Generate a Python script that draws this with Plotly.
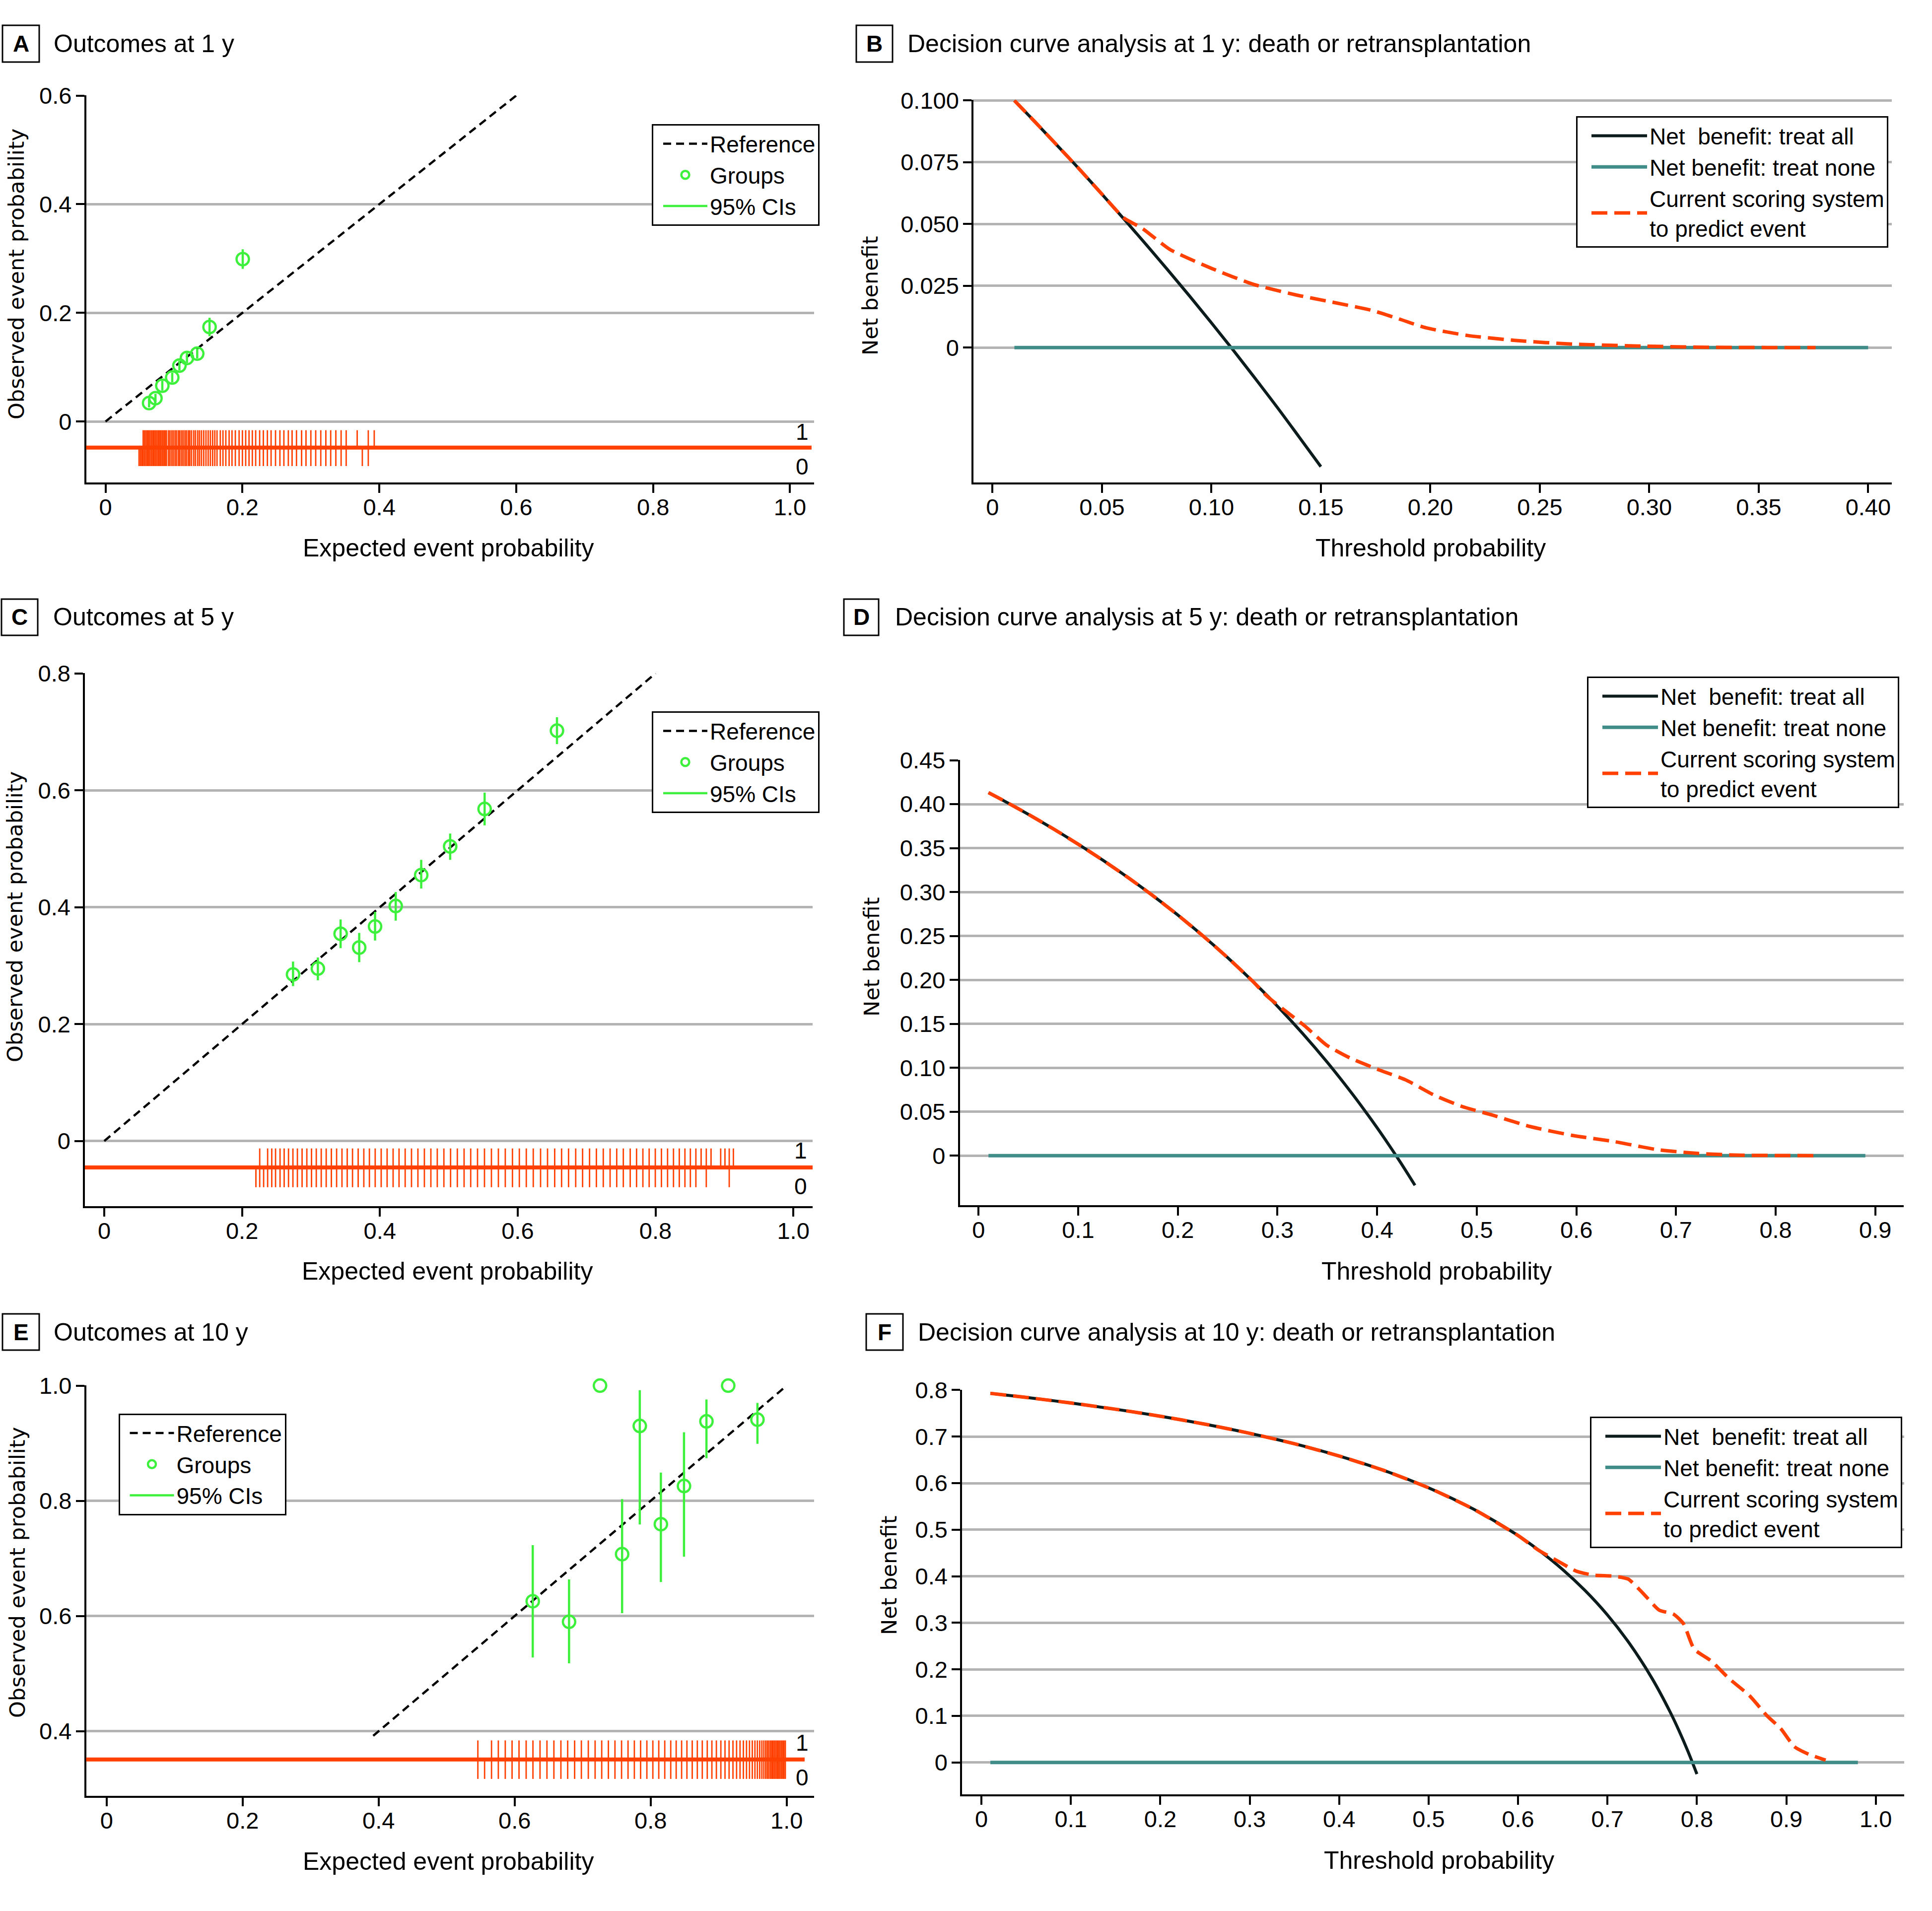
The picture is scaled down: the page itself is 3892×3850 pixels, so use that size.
import plotly.graph_objects as go

W, H = 3892, 3850
ORANGE = "#ff4000"
GREEN = "#3cf03c"
TEAL = "#3f8c88"
DARK = "#0c1c1c"
GRID = "#b3b3b3"
FONT = "Liberation Sans"
YFONT = "DejaVu Sans"

# ---------------- Panel A: calibration at 1 y ----------------
A_expected = [0.0637, 0.073, 0.083, 0.0975, 0.108, 0.119, 0.134, 0.152, 0.2005]
A_observed = [0.034, 0.043, 0.066, 0.081, 0.103, 0.117, 0.125, 0.174, 0.299]
A_ci_low = [0.026, 0.035, 0.057, 0.072, 0.094, 0.108, 0.116, 0.157, 0.281]
A_ci_high = [0.042, 0.051, 0.075, 0.090, 0.112, 0.126, 0.134, 0.191, 0.317]
A_reference = [0.0, 0.6]
A_rug_event = [0.055, 0.057, 0.059, 0.061, 0.063, 0.065, 0.067, 0.069, 0.071, 0.073, 0.075,
               0.077, 0.079, 0.081, 0.083, 0.085, 0.087, 0.089,
               0.0919, 0.0942, 0.0968, 0.0990, 0.1016, 0.1039, 0.1065, 0.1087, 0.1113, 0.1135,
               0.1161, 0.1184, 0.1210, 0.1232, 0.1258, 0.1290, 0.1316, 0.1348, 0.1374, 0.1403,
               0.1435, 0.1468, 0.1500, 0.1532, 0.1565, 0.1597, 0.1629, 0.1677, 0.1716, 0.1758,
               0.1806, 0.1848, 0.1897, 0.1952, 0.2000, 0.2048, 0.2097, 0.2145, 0.2194, 0.2252,
               0.2306, 0.2365, 0.2419, 0.2484, 0.2548, 0.2606, 0.2671, 0.2726, 0.2790, 0.2865,
               0.2929, 0.3000, 0.3071, 0.3145, 0.3219, 0.3290, 0.3365, 0.3442, 0.3516, 0.3677,
               0.3839, 0.3926]
A_rug_nonevent = [0.049, 0.051, 0.053, 0.055, 0.057, 0.059, 0.061, 0.063, 0.065, 0.067, 0.069,
                  0.071, 0.073, 0.075, 0.077, 0.079, 0.081, 0.083, 0.085, 0.087, 0.089,
                  0.0919, 0.0942, 0.0968, 0.0990, 0.1016, 0.1039, 0.1065, 0.1087, 0.1113, 0.1135,
                  0.1161, 0.1184, 0.1210, 0.1232, 0.1258, 0.1290, 0.1316, 0.1348, 0.1374, 0.1403,
                  0.1435, 0.1468, 0.1500, 0.1532, 0.1565, 0.1597, 0.1629, 0.1677, 0.1716, 0.1758,
                  0.1806, 0.1848, 0.1897, 0.1952, 0.2000, 0.2048, 0.2097, 0.2145, 0.2194, 0.2252,
                  0.2306, 0.2365, 0.2419, 0.2484, 0.2548, 0.2606, 0.2671, 0.2726, 0.2790, 0.2865,
                  0.2929, 0.3000, 0.3071, 0.3145, 0.3219, 0.3290, 0.3365, 0.3442, 0.3516, 0.3752,
                  0.3839]

# ---------------- Panel C: calibration at 5 y ----------------
C_expected = [0.274, 0.310, 0.343, 0.370, 0.393, 0.423, 0.460, 0.502, 0.552, 0.657]
C_observed = [0.285, 0.295, 0.3545, 0.331, 0.367, 0.402, 0.455, 0.504, 0.568, 0.702]
C_ci_low = [0.265, 0.275, 0.330, 0.306, 0.343, 0.377, 0.432, 0.481, 0.540, 0.679]
C_ci_high = [0.307, 0.314, 0.379, 0.356, 0.392, 0.426, 0.481, 0.526, 0.596, 0.725]
C_reference = [0.0, 0.8]
C_rug_common = [0.2256, 0.2371, 0.2431, 0.2486, 0.2551, 0.2611, 0.2674, 0.2738, 0.2803, 0.2871,
                0.2940, 0.3008, 0.3077, 0.3149, 0.3221, 0.3296, 0.3372, 0.3450, 0.3526, 0.3603,
                0.3685, 0.3767, 0.3848, 0.3932, 0.4019, 0.4105, 0.4192, 0.4278, 0.4367, 0.4459,
                0.4552, 0.4646, 0.4740, 0.4833, 0.4929, 0.5026, 0.5124, 0.5222, 0.5318, 0.5417,
                0.5518, 0.5619, 0.5720, 0.5820, 0.5924, 0.6024, 0.6125, 0.6226, 0.6332, 0.6433,
                0.6537, 0.6637, 0.6738, 0.6842, 0.6942, 0.7043, 0.7142, 0.7242, 0.7341, 0.7437,
                0.7533, 0.7633, 0.7725, 0.7817, 0.7908, 0.7997, 0.8086, 0.8175, 0.8261, 0.8345,
                0.8427, 0.8506, 0.8586]
C_rug_event = C_rug_common + [0.8662, 0.8737, 0.8806, 0.8946, 0.9008, 0.9070, 0.9130]
C_rug_nonevent = [0.2201, 0.2313] + C_rug_common + [0.8737, 0.9070]

# ---------------- Panel E: calibration at 10 y ----------------
E_expected = [0.6266, 0.680, 0.7255, 0.758, 0.784, 0.815, 0.849, 0.882, 0.914, 0.957]
E_observed = [0.6257, 0.590, 1.0, 0.7074, 0.930, 0.7595, 0.8257, 0.938, 1.0, 0.941]
E_ci_low = [0.528, 0.518, 1.0, 0.605, 0.759, 0.659, 0.703, 0.874, 1.0, 0.899]
E_ci_high = [0.723, 0.6635, 1.0, 0.803, 0.992, 0.849, 0.919, 0.976, 1.0, 0.970]
E_reference = [0.392, 1.0]
E_rug_sparse = [0.5459, 0.5660, 0.5760, 0.5862, 0.5962, 0.6064, 0.6169, 0.6269, 0.6373, 0.6475,
                0.6577, 0.6680, 0.6780, 0.6882, 0.6981, 0.7083, 0.7183, 0.7280, 0.7378, 0.7475,
                0.7572, 0.7667, 0.7760, 0.7852, 0.7944, 0.8032, 0.8119, 0.8207, 0.8295, 0.8375,
                0.8455, 0.8533, 0.8611, 0.8686, 0.8759, 0.8832, 0.8900, 0.8966, 0.9032, 0.9093,
                0.9153, 0.9210, 0.9263, 0.9314, 0.9363, 0.9409, 0.9453, 0.9494, 0.9533, 0.9569,
                0.9603, 0.9635, 0.9664, 0.9691, 0.9715, 0.9737, 0.9760, 0.9780, 0.9800, 0.9820,
                0.9840, 0.9860, 0.9880, 0.9900, 0.9920, 0.9940, 0.9960, 0.9980]
E_rug_event = E_rug_sparse
E_rug_nonevent = [0.5558] + E_rug_sparse

# ---------------- Panel B: decision curve at 1 y ----------------
B_thr_all = [0.01, 0.02, 0.03, 0.04, 0.05, 0.06, 0.07, 0.08, 0.09, 0.10, 0.11, 0.12, 0.13, 0.14, 0.15]
B_nb_all = [0.1000, 0.0908, 0.0814, 0.0719, 0.0621, 0.0521, 0.0419, 0.0315, 0.0209, 0.0100,
            -0.0011, -0.0125, -0.0241, -0.0361, -0.0482]
B_thr_none = [0.01, 0.40]
B_nb_none = [0.0, 0.0]
B_thr_model = [0.01, 0.02, 0.03, 0.04, 0.05, 0.06, 0.0685, 0.0811, 0.1002, 0.1192, 0.1382, 0.154,
               0.173, 0.186, 0.198, 0.217, 0.240, 0.265, 0.297, 0.328, 0.376]
B_nb_model = [0.1000, 0.0908, 0.0814, 0.0719, 0.0621, 0.0525, 0.0482, 0.0397, 0.0320, 0.0256,
              0.0214, 0.0186, 0.0151, 0.0115, 0.0080, 0.0049, 0.0028, 0.0014, 0.0006, 0.0001, 0.0]

# ---------------- Panel D: decision curve at 5 y ----------------
D_thr_all = [0.01, 0.025, 0.05, 0.075, 0.10, 0.125, 0.15, 0.175, 0.20, 0.225, 0.25, 0.275, 0.30,
             0.325, 0.35, 0.375, 0.39, 0.40, 0.41, 0.42, 0.43, 0.438]
D_nb_all = [0.4131, 0.4041, 0.3884, 0.3719, 0.3544, 0.3360, 0.3165, 0.2958, 0.2738, 0.2503,
            0.2253, 0.1986, 0.1700, 0.1393, 0.1062, 0.0704, 0.0475, 0.0317, 0.0153, -0.0017,
            -0.0193, -0.0338]
D_thr_none = [0.01, 0.89]
D_nb_none = [0.0, 0.0]
D_thr_model = [0.01, 0.025, 0.05, 0.075, 0.10, 0.125, 0.15, 0.175, 0.20, 0.225, 0.25, 0.275, 0.290,
               0.311, 0.328, 0.349, 0.373, 0.401, 0.429, 0.457, 0.485, 0.516, 0.554, 0.596, 0.638,
               0.680, 0.722, 0.763, 0.840]
D_nb_model = [0.4131, 0.4041, 0.3884, 0.3719, 0.3544, 0.3360, 0.3165, 0.2958, 0.2738, 0.2503,
              0.2253, 0.1986, 0.181, 0.162, 0.147, 0.126, 0.111, 0.098, 0.086, 0.069, 0.056, 0.046,
              0.033, 0.023, 0.016, 0.007, 0.0025, 0.0005, 0.0]

# ---------------- Panel F: decision curve at 10 y ----------------
F_thr_all = [0.01, 0.05, 0.10, 0.15, 0.20, 0.25, 0.30, 0.35, 0.40, 0.45, 0.50, 0.55, 0.60, 0.625,
             0.65, 0.675, 0.70, 0.725, 0.75, 0.77, 0.78, 0.79, 0.80]
F_nb_all = [0.7929, 0.7842, 0.7722, 0.7588, 0.7438, 0.7267, 0.7071, 0.6846, 0.6583, 0.6273, 0.5900,
            0.5444, 0.4875, 0.4533, 0.4143, 0.3692, 0.3167, 0.2545, 0.1800, 0.1087, 0.0682, 0.0238,
            -0.0250]
F_thr_none = [0.01, 0.98]
F_nb_none = [0.0, 0.0]
F_thr_model = [0.01, 0.05, 0.10, 0.15, 0.20, 0.25, 0.30, 0.35, 0.40, 0.45, 0.50, 0.55, 0.60, 0.622,
               0.645, 0.665, 0.684, 0.7075, 0.723, 0.739, 0.758, 0.7735, 0.785, 0.797, 0.816,
               0.8355, 0.859, 0.878, 0.894, 0.909, 0.925, 0.944]
F_nb_model = [0.7929, 0.7842, 0.7722, 0.7588, 0.7438, 0.7267, 0.7071, 0.6846, 0.6583, 0.6273, 0.5900,
              0.5444, 0.4875, 0.457, 0.432, 0.411, 0.4025, 0.400, 0.394, 0.365, 0.327, 0.319, 0.298,
              0.2435, 0.218, 0.181, 0.143, 0.101, 0.072, 0.034, 0.0176, 0.005]

# ---------------- Axis texts ----------------
A_xticks = [0, 0.2, 0.4, 0.6, 0.8, 1.0]
A_xtext = ["0", "0.2", "0.4", "0.6", "0.8", "1.0"]
A_yticks = [0, 0.2, 0.4, 0.6]
A_ytext = ["0", "0.2", "0.4", "0.6"]
C_yticks = [0, 0.2, 0.4, 0.6, 0.8]
C_ytext = ["0", "0.2", "0.4", "0.6", "0.8"]
E_yticks = [0.4, 0.6, 0.8, 1.0]
E_ytext = ["0.4", "0.6", "0.8", "1.0"]
B_xticks = [0, 0.05, 0.10, 0.15, 0.20, 0.25, 0.30, 0.35, 0.40]
B_xtext = ["0", "0.05", "0.10", "0.15", "0.20", "0.25", "0.30", "0.35", "0.40"]
B_yticks = [0, 0.025, 0.05, 0.075, 0.1]
B_ytext = ["0", "0.025", "0.050", "0.075", "0.100"]
D_xticks = [0, 0.1, 0.2, 0.3, 0.4, 0.5, 0.6, 0.7, 0.8, 0.9]
D_xtext = ["0", "0.1", "0.2", "0.3", "0.4", "0.5", "0.6", "0.7", "0.8", "0.9"]
D_yticks = [0, 0.05, 0.10, 0.15, 0.20, 0.25, 0.30, 0.35, 0.40, 0.45]
D_ytext = ["0", "0.05", "0.10", "0.15", "0.20", "0.25", "0.30", "0.35", "0.40", "0.45"]
F_xticks = [0, 0.1, 0.2, 0.3, 0.4, 0.5, 0.6, 0.7, 0.8, 0.9, 1.0]
F_xtext = ["0", "0.1", "0.2", "0.3", "0.4", "0.5", "0.6", "0.7", "0.8", "0.9", "1.0"]
F_yticks = [0, 0.1, 0.2, 0.3, 0.4, 0.5, 0.6, 0.7, 0.8]
F_ytext = ["0", "0.1", "0.2", "0.3", "0.4", "0.5", "0.6", "0.7", "0.8"]

LEG_CAL = ["Reference", "Groups", "95% CIs"]
LEG_DCA = ["Net  benefit: treat all", "Net benefit: treat none",
           "Current scoring system<br>to predict event"]


def px(x):
    return x / W


def py(y):
    return 1 - y / H


fig = go.Figure()


def ax_names(n):
    s = "" if n == 1 else str(n)
    return "x" + s, "y" + s, "legend" + s


def add_calibration(n, exp, obs, lo, hi, ref, rug1, rug0, rug_y):
    xa, ya, lg = ax_names(n)
    fig.add_trace(go.Scatter(x=ref, y=ref, mode="lines", name=LEG_CAL[0], xaxis=xa, yaxis=ya,
                             legend=lg, line=dict(color="black", width=4.5, dash="16px,10px")))
    cx, cy = [], []
    for e, l, h in zip(exp, lo, hi):
        cx += [e, e, None]
        cy += [l, h, None]
    fig.add_trace(go.Scatter(x=exp, y=obs, mode="markers", name=LEG_CAL[1], xaxis=xa, yaxis=ya,
                             legend=lg, cliponaxis=False,
                             marker=dict(symbol="circle-open", size=25, color=GREEN,
                                         line=dict(width=4.5, color=GREEN))))
    fig.add_trace(go.Scatter(x=cx, y=cy, mode="lines", name=LEG_CAL[2], xaxis=xa, yaxis=ya,
                             legend=lg, cliponaxis=False, line=dict(color=GREEN, width=4.5)))
    top, mid, bot = rug_y
    for vals, y0, y1 in ((rug1, top, mid), (rug0, mid, bot)):
        rx, ry = [], []
        for v in vals:
            rx += [v, v, None]
            ry += [y0, y1, None]
        fig.add_trace(go.Scatter(x=rx, y=ry, mode="lines", showlegend=False, xaxis=xa, yaxis=ya,
                                 line=dict(color=ORANGE, width=2.8), hoverinfo="skip"))


def add_dca(n, ta, na, tn, nn, tm, nm):
    xa, ya, lg = ax_names(n)
    fig.add_trace(go.Scatter(x=ta, y=na, mode="lines", name=LEG_DCA[0], xaxis=xa, yaxis=ya,
                             legend=lg, line=dict(color=DARK, width=6, shape="spline")))
    fig.add_trace(go.Scatter(x=tn, y=nn, mode="lines", name=LEG_DCA[1], xaxis=xa, yaxis=ya,
                             legend=lg, line=dict(color=TEAL, width=7)))
    fig.add_trace(go.Scatter(x=tm, y=nm, mode="lines", name=LEG_DCA[2], xaxis=xa, yaxis=ya,
                             legend=lg, line=dict(color=ORANGE, width=7, dash="32px,14px",
                                                  shape="spline", smoothing=0.6)))


add_calibration(1, A_expected, A_observed, A_ci_low, A_ci_high, A_reference,
                A_rug_event, A_rug_nonevent, (-0.016, -0.048, -0.082))
add_dca(2, B_thr_all, B_nb_all, B_thr_none, B_nb_none, B_thr_model, B_nb_model)
add_calibration(3, C_expected, C_observed, C_ci_low, C_ci_high, C_reference,
                C_rug_event, C_rug_nonevent, (-0.0127, -0.0452, -0.079))
add_dca(4, D_thr_all, D_nb_all, D_thr_none, D_nb_none, D_thr_model, D_nb_model)
add_calibration(5, E_expected, E_observed, E_ci_low, E_ci_high, E_reference,
                E_rug_event, E_rug_nonevent, (0.3840, 0.3510, 0.3172))
add_dca(6, F_thr_all, F_nb_all, F_thr_none, F_nb_none, F_thr_model, F_nb_model)

# panel geometry (pixels) -> domains
panels = {
    1: dict(x=(173.5, 1640), y=(192, 972), xr=[-0.0283, 1.0352], yr=[-0.1122, 0.6005],
            xt=(A_xticks, A_xtext), yt=(A_yticks, A_ytext)),
    2: dict(x=(1961, 3811), y=(201, 972), xr=[-0.0087, 0.4108], yr=[-0.0546, 0.1003],
            xt=(B_xticks, B_xtext), yt=(B_yticks, B_ytext)),
    3: dict(x=(171, 1637), y=(1356, 2430), xr=[-0.0281, 1.028], yr=[-0.1114, 0.8005],
            xt=(A_xticks, A_xtext), yt=(C_yticks, C_ytext)),
    4: dict(x=(1933.5, 3835), y=(1531, 2428), xr=[-0.0188, 0.9285], yr=[-0.0564, 0.4503],
            xt=(D_xticks, D_xtext), yt=(D_yticks, D_ytext)),
    5: dict(x=(173.5, 1640), y=(2791, 3618), xr=[-0.0301, 1.0403], yr=[0.2878, 1.0005],
            xt=(A_xticks, A_xtext), yt=(E_yticks, E_ytext)),
    6: dict(x=(1938, 3836), y=(2800, 3615), xr=[-0.0217, 1.0318], yr=[-0.0686, 0.8005],
            xt=(F_xticks, F_xtext), yt=(F_yticks, F_ytext)),
}

layout = dict(width=W, height=H, autosize=False,
              margin=dict(l=0, r=0, t=0, b=0, pad=0, autoexpand=False),
              paper_bgcolor="white", plot_bgcolor="white",
              font=dict(family=FONT, size=47, color="black"))
tickfont = dict(family=FONT, size=47, color="black")
for n, p in panels.items():
    s = "" if n == 1 else str(n)
    layout["xaxis" + s] = dict(domain=[px(p["x"][0]), px(p["x"][1])], range=p["xr"],
                               anchor="y" + s, showgrid=False, zeroline=False,
                               showline=True, linecolor="black", linewidth=3.5,
                               ticks="outside", ticklen=17, tickwidth=3.5, tickcolor="black",
                               tickvals=p["xt"][0], ticktext=p["xt"][1], tickfont=tickfont,
                               ticklabelstandoff=-11)
    layout["yaxis" + s] = dict(domain=[py(p["y"][1]), py(p["y"][0])], range=p["yr"],
                               anchor="x" + s, showgrid=True, gridcolor=GRID, gridwidth=4.5,
                               zeroline=False, showline=True, linecolor="black", linewidth=3.5,
                               ticks="outside", ticklen=17, tickwidth=3.5, tickcolor="black",
                               tickvals=p["yt"][0], ticktext=p["yt"][1], tickfont=tickfont,
                               ticklabelstandoff=-1)

# legend: (left px, top px, symbol width, indentation)
legend_pos = {1: (1313, 250, 89, 15), 2: (3175, 234, 112, 23), 3: (1313, 1433, 89, 15),
              4: (3197, 1363, 112, 23), 5: (238.5, 2847.5, 89, 15), 6: (3203, 2854, 112, 23)}
for n, (lx, ly, iw, ind) in legend_pos.items():
    s = "" if n == 1 else str(n)
    layout["legend" + s] = dict(x=px(lx), y=py(ly), xanchor="left", yanchor="top",
                                bgcolor="white", bordercolor="black", borderwidth=3,
                                font=dict(family=FONT, size=46, color="black"),
                                itemwidth=iw, indentation=ind, tracegroupgap=0)

annotations = []
shapes = []
# panel letters and titles
titles = [
    ("A", (5, 79, 51, 125), 106, "Outcomes at 1 y"),
    ("B", (1725, 1798, 51, 125), 1826, "Decision curve analysis at 1 y: death or retransplantation"),
    ("C", (3, 76, 1207, 1280), 105, "Outcomes at 5 y"),
    ("D", (1700, 1770, 1207, 1280), 1801, "Decision curve analysis at 5 y: death or retransplantation"),
    ("E", (5, 79, 2647, 2720), 106, "Outcomes at 10 y"),
    ("F", (1745, 1819, 2647, 2720), 1847, "Decision curve analysis at 10 y: death or retransplantation"),
]
for letter, (x0, x1, y0, y1), tx, text in titles:
    shapes.append(dict(type="rect", xref="paper", yref="paper", x0=px(x0), x1=px(x1),
                       y0=py(y1), y1=py(y0), line=dict(color="black", width=3)))
    annotations.append(dict(text="<b>%s</b>" % letter, xref="paper", yref="paper",
                            x=px((x0 + x1) / 2), y=py((y0 + y1) / 2), xanchor="center",
                            yanchor="middle", showarrow=False,
                            font=dict(family=FONT, size=46, color="black")))
    annotations.append(dict(text=text, xref="paper", yref="paper", x=px(tx),
                            y=py((y0 + y1) / 2), xanchor="left", yanchor="middle",
                            showarrow=False, font=dict(family=FONT, size=50, color="black")))

# axis titles
xtitles = [("Expected event probability", 903, 1104), ("Threshold probability", 2882, 1104),
           ("Expected event probability", 901, 2561), ("Threshold probability", 2894, 2561),
           ("Expected event probability", 903, 3750), ("Threshold probability", 2899, 3748)]
for t, x, y in xtitles:
    annotations.append(dict(text=t, xref="paper", yref="paper", x=px(x), y=py(y),
                            xanchor="center", yanchor="middle", showarrow=False,
                            font=dict(family=FONT, size=50, color="black")))
ytitles = [("Observed event probability", 33, 552), ("Net benefit", 1753, 596),
           ("Observed event probability", 30, 1847), ("Net benefit", 1756, 1928),
           ("Observed event probability", 35, 3168), ("Net benefit", 1791, 3174)]
for t, x, y in ytitles:
    annotations.append(dict(text=t, xref="paper", yref="paper", x=px(x), y=py(y),
                            xanchor="center", yanchor="middle", showarrow=False, textangle=-90,
                            font=dict(family=YFONT, size=43, color="black")))

# rug baselines and 1/0 labels
rug_info = {1: (-0.048, -0.019, -0.083, 0.9965), 3: (-0.0452, -0.0167, -0.0773, 1.0),
            5: (0.3510, 0.3804, 0.3196, 0.987)}
for n, (mid, y1, y0, xend) in rug_info.items():
    s = "" if n == 1 else str(n)
    shapes.append(dict(type="line", xref="x%s domain" % s, yref="y" + s, x0=0, x1=xend,
                       y0=mid, y1=mid, line=dict(color=ORANGE, width=8)))
    annotations.append(dict(text="1", xref="x%s domain" % s, yref="y" + s, x=0.994, y=y1,
                            xanchor="right", yanchor="middle", showarrow=False,
                            font=dict(family=FONT, size=46, color="black")))
    annotations.append(dict(text="0", xref="x%s domain" % s, yref="y" + s, x=0.994, y=y0,
                            xanchor="right", yanchor="middle", showarrow=False,
                            font=dict(family=FONT, size=46, color="black")))

layout["annotations"] = annotations
layout["shapes"] = shapes
fig.update_layout(**layout)
fig.write_html("out.html")
